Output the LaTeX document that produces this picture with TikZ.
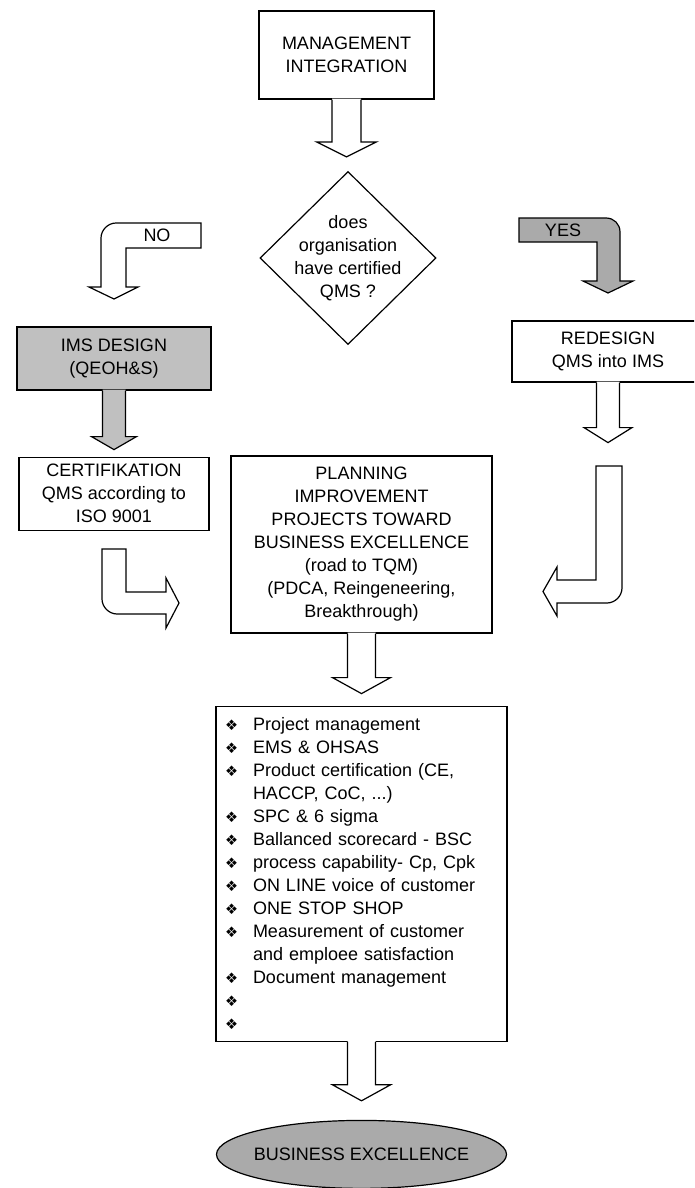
\documentclass[tikz,border=0pt]{standalone}
\usepackage{fontspec}
\setmainfont{Liberation Sans}
\newfontfamily\dingfont{DejaVu Sans}
\usepackage{xcolor}
\usepackage{tikz}
\usetikzlibrary{positioning}
\usetikzlibrary{shapes.geometric}
\usetikzlibrary{calc}
\definecolor{boxgrey}{RGB}{192,192,192}
\definecolor{arrowgrey}{RGB}{170,170,170}
\newcommand{\chartfont}{\fontsize{18}{23}\selectfont}
\newcommand{\itm}{\makebox[28pt][l]{\dingfont\fontsize{14.5}{14.5}\selectfont ❖}}
% box with a block arrow hanging from its bottom side
\newcommand{\callout}[6][white]{%
	\fill[#1] let \p1=(#2.south), \p2=(#3) in
		(\x1-#4pt,\y1+1pt) -- (\x1-#4pt,\y2+#6pt) -- (\x1-#5pt,\y2+#6pt)
		-- (\x1,\y2) -- (\x1+#5pt,\y2+#6pt) -- (\x1+#4pt,\y2+#6pt)
		-- (\x1+#4pt,\y1+1pt) -- cycle;
	\draw[outline] let \p1=(#2.south), \p2=(#3) in
		(\x1-#4pt,\y1) -- (\x1-#4pt,\y2+#6pt) -- (\x1-#5pt,\y2+#6pt)
		-- (\x1,\y2) -- (\x1+#5pt,\y2+#6pt) -- (\x1+#4pt,\y2+#6pt)
		-- (\x1+#4pt,\y1);}
\begin{document}
\begin{tikzpicture}[x=1pt, y=-1pt,%
	base/.style={draw=black, line width=1.2pt, align=center, inner sep=2pt,
		font=\chartfont},
	rect/.style={base},
	greybox/.style={base, fill=boxgrey},
	decision/.style={base, diamond, inner sep=0pt},
	terminal/.style={base, ellipse, fill=arrowgrey, inner sep=0pt},
	outline/.style={draw=black, line width=1.2pt},
	tag/.style={font=\chartfont, inner sep=0pt}%
	]
	\useasboundingbox (0,0) rectangle (694,1188);
	\clip (0,0) rectangle (694,1188);
	%
	% Nodes
	%
	\node[rect, minimum width=175pt, minimum height=88pt] (mgmt) at (346.5,55)
		{MANAGEMENT\\INTEGRATION};
	\node[decision, minimum width=176pt, minimum height=173pt,
		label={[font=\chartfont, align=center]center:does\\organisation\\have certified\\QMS ?}]
		(dec) at (348,258) {};
	\node[greybox, minimum width=194pt, minimum height=63pt] (ims) at (114,358.5)
		{IMS DESIGN\\(QEOH\&S)};
	\node[rect, minimum width=192pt, minimum height=61pt] (redes) at (608,351.5)
		{REDESIGN\\QMS into IMS};
	\node[rect, below=66pt of ims, minimum width=190pt, minimum height=73pt] (cert)
		{CERTIFIKATION\\QMS according to\\ISO 9001};
	\node[rect, minimum width=261pt, minimum height=177pt] (plan) at (361.5,544.5)
		{PLANNING\\IMPROVEMENT\\PROJECTS TOWARD\\BUSINESS EXCELLENCE\\(road to TQM)\\(PDCA, Reingeneering,\\Breakthrough)};
	\node[rect, below=72pt of plan, minimum width=291pt, minimum height=335pt,
		text width=273pt, align=left, inner xsep=9pt] (list)
		{\itm Project management\\
		\itm EMS \& OHSAS\\
		\itm Product certification (CE,\\
		\hspace*{28pt}HACCP, CoC, ...)\\
		\itm SPC \& 6 sigma\\
		\itm Ballanced scorecard - BSC\\
		\itm process capability- Cp, Cpk\\
		\itm ON LINE voice of customer\\
		\itm ONE STOP SHOP\\
		\itm Measurement of customer\\
		\hspace*{28pt}and emploee satisfaction\\
		\itm Document management\\
		\itm\\
		\itm};
	\node[terminal, below=78pt of list, minimum width=290pt, minimum height=68pt,
		label={[font=\chartfont]center:BUSINESS EXCELLENCE}] (goal) {};
	%
	% Block arrows
	%
	\callout{mgmt}{$(dec.north)+(0,-14)$}{14.5}{30}{15}
	\callout[boxgrey]{ims}{$(cert.north)+(0,-7)$}{11.5}{22.5}{13}
	\callout{redes}{$(redes.south)+(0,60)$}{11.5}{24}{15}
	\callout{plan}{$(list.north)+(0,-12)$}{14}{29}{16}
	\callout{list}{$(goal.north)+(0,-19)$}{14}{29}{16}
	\coordinate (no-in) at (201,235.5);
	\coordinate (yes-in) at (519,230);
	\coordinate (cert-out) at (114,549);
	\coordinate (redes-out) at (609,466);
	\draw[outline, fill=white] (no-in) ++(0,-12.5) -- ++(-85,0)
		.. controls +(-8,0) and +(0,-8) .. ++(-15,15)
		-- ++(0,49) -- ++(-12,0) -- ++(25,12) -- ++(24,-12) -- ++(-12,0)
		-- ++(0,-39) -- ++(75,0) -- cycle;
	\draw[outline, fill=arrowgrey] (yes-in) ++(0,-12) -- ++(87,0)
		.. controls +(8,0) and +(0,-8) .. ++(14,14)
		-- ++(0,49) -- ++(13,0) -- ++(-25,12) -- ++(-25,-12) -- ++(14,0)
		-- ++(0,-39) -- ++(-78,0) -- cycle;
	\draw[outline, fill=white] (cert-out) ++(-12,0) -- ++(0,50)
		.. controls +(0,8) and +(-8,0) .. ++(15,15)
		-- ++(49,0) -- ++(0,14) -- ++(13,-25) -- ++(-13,-25) -- ++(0,14)
		-- ++(-40,0) -- ++(0,-43) -- cycle;
	\draw[outline, fill=white] (redes-out) ++(13,0) -- ++(0,122)
		.. controls +(0,8) and +(8,0) .. ++(-15,15)
		-- ++(-50,0) -- ++(0,13) -- ++(-14,-24.5) -- ++(14,-24.5) -- ++(0,13)
		-- ++(39,0) -- ++(0,-114) -- cycle;
	\node[tag] (nolbl) at (157,235.5) {NO};
	\node[tag] (yeslbl) at (563,230) {YES};
\end{tikzpicture}
\end{document}
